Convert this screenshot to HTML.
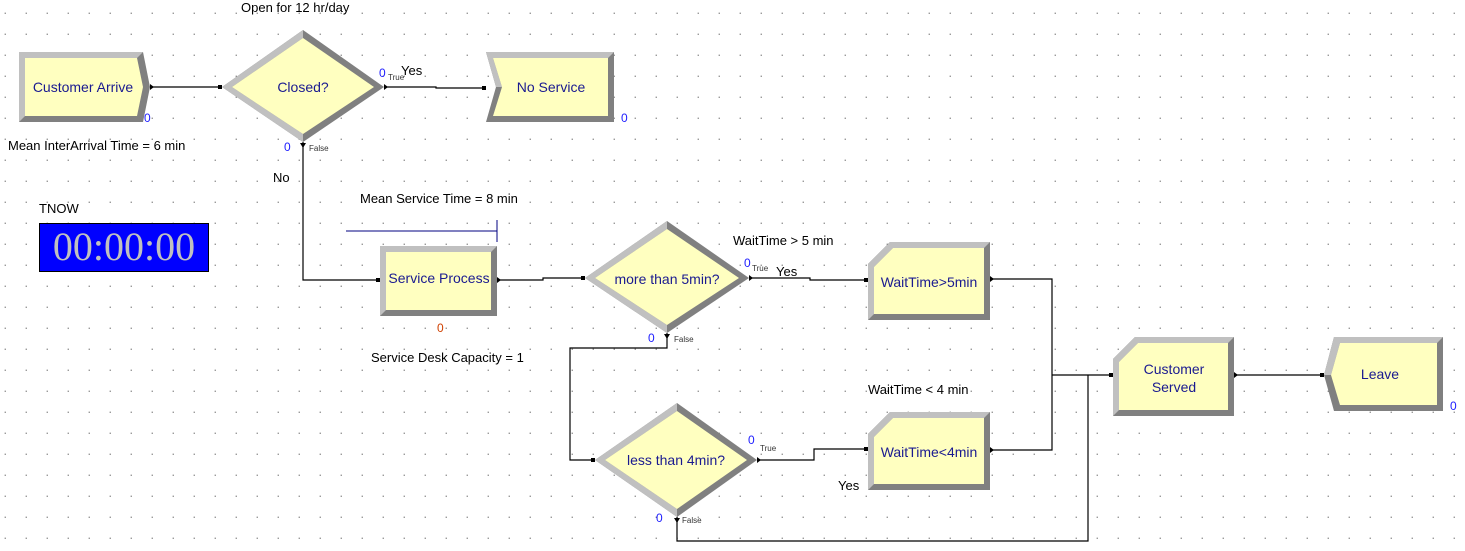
<!DOCTYPE html>
<html><head><meta charset="utf-8"><style>
html,body{margin:0;padding:0;background:#fff;}
svg{display:block;font-family:"Liberation Sans",Arial,sans-serif;}
.lbl{font-size:13px;fill:#000;}
.nm{font-size:14px;fill:#1a1a90;}
.z{font-size:12px;fill:#2020ff;}
.tf{font-size:8px;fill:#333;}
.ln{stroke:#000;stroke-width:1.2;fill:none;}
</style></head><body>
<svg width="1465" height="551" viewBox="0 0 1465 551">
<defs>
<pattern id="dots" x="4.7" y="12.7" width="21" height="21" patternUnits="userSpaceOnUse">
<rect x="0" y="0" width="1" height="1" fill="#333"/>
</pattern>
</defs>
<rect width="1465" height="551" fill="#fff"/>
<rect width="1465" height="551" fill="url(#dots)"/>

<!-- connectors -->
<polyline class="ln" points="150,87 222,87"/>
<polyline class="ln" points="384,87 436,87 436,88 486,88"/>
<polyline class="ln" points="303,142 303,280 380,280"/>
<polyline class="ln" points="497,280 543,280 543,278 585,278"/>
<polyline class="ln" points="749,278 810,278 810,280 868,280"/>
<polyline class="ln" points="990,279 1052,279 1052,450 990,450"/>
<polyline class="ln" points="1052,375 1113,375"/>
<polyline class="ln" points="667,333 667,348 570,348 570,460 595,460"/>
<polyline class="ln" points="757,460 814,460 814,449 868,449"/>
<polyline class="ln" points="677,517 677,541 1088,541 1088,375"/>
<polyline class="ln" points="1234,375 1324,375"/>
<g fill="#000">
<rect x="218" y="85" width="4" height="4"/><rect x="482" y="86" width="4" height="4"/>
<rect x="376" y="278" width="4" height="4"/><rect x="581" y="276" width="4" height="4"/>
<rect x="864" y="278" width="4" height="4"/><rect x="1109" y="373" width="4" height="4"/>
<rect x="591" y="458" width="4" height="4"/><rect x="864" y="447" width="4" height="4"/>
<rect x="1320" y="373" width="4" height="4"/>
<path d="M150,84 L154,87 L150,90Z M384,84 L388,87 L384,90Z M300,143 L306,143 L303,148Z M497,277 L501,280 L497,283Z M749,275 L753,278 L749,281Z M664,334 L670,334 L667,339Z M757,457 L761,460 L757,463Z M674,518 L680,518 L677,523Z M990,276 L994,279 L990,282Z M990,447 L994,450 L990,453Z M1234,372 L1238,375 L1234,378Z"/>
</g>

<!-- Customer Arrive -->
<polygon points="19,52 143,52 150,87 143,122 19,122" fill="#808080"/>
<polygon points="19,52 143,52 137,58 25,58 25,116 19,122" fill="#c0c0c0"/>
<polygon points="25,58 137,58 143,87 137,116 25,116" fill="#ffffc0"/>
<text class="nm" x="83" y="92" text-anchor="middle">Customer Arrive</text>
<text class="z" x="144" y="122">0</text>
<text class="lbl" x="8" y="150">Mean InterArrival Time = 6 min</text>

<!-- Closed? -->
<polygon points="303,30 384,87 303,142 222,87" fill="#808080"/>
<polygon points="303,30 222,87 303,142 303,134 232,87 303,38" fill="#c0c0c0"/>
<polygon points="303,38 374,87 303,134 232,87" fill="#ffffc0"/>
<text class="nm" x="303" y="92" text-anchor="middle">Closed?</text>
<text class="lbl" x="241" y="12">Open for 12 hr/day</text>
<text class="z" x="379" y="77">0</text><text class="tf" x="388" y="80">True</text>
<text class="lbl" x="401" y="75">Yes</text>
<text class="z" x="284" y="151">0</text><text class="tf" x="309" y="151">False</text>
<text class="lbl" x="273" y="182">No</text>

<!-- No Service -->
<polygon points="486,52 614,52 614,122 486,122 496,87" fill="#808080"/>
<polygon points="486,52 614,52 608,58 493,58 502,87 496,87" fill="#c0c0c0"/>
<polygon points="493,58 608,58 608,116 493,116 502,87" fill="#ffffc0"/>
<text class="nm" x="551" y="92" text-anchor="middle">No Service</text>
<text class="z" x="621" y="122">0</text>

<!-- TNOW -->
<text class="lbl" x="39" y="213">TNOW</text>
<rect x="39.5" y="223.5" width="169" height="48" fill="#0000ff" stroke="#000"/>
<text x="124" y="260" text-anchor="middle" style="font-family:'Liberation Serif',serif;font-size:40px;fill:#c0c0c0">00:00:00</text>

<!-- Service Process -->
<text class="lbl" x="360" y="203">Mean Service Time = 8 min</text>
<line x1="346" y1="231" x2="497" y2="231" stroke="#000080" stroke-width="1"/>
<line x1="497" y1="220" x2="497" y2="242" stroke="#000080" stroke-width="1"/>
<rect x="380" y="246" width="117" height="70" fill="#808080"/>
<polygon points="380,246 497,246 491,252 386,252 386,310 380,316" fill="#c0c0c0"/>
<rect x="386" y="252" width="105" height="58" fill="#ffffc0"/>
<text class="nm" x="439" y="283" text-anchor="middle">Service Process</text>
<text x="437" y="332" style="font-size:12px;fill:#d04000">0</text>
<text class="lbl" x="371" y="362">Service Desk Capacity = 1</text>

<!-- more than 5min? -->
<polygon points="667,221 749,278 667,333 585,278" fill="#808080"/>
<polygon points="667,221 585,278 667,333 667,325 595,278 667,229" fill="#c0c0c0"/>
<polygon points="667,229 739,278 667,325 595,278" fill="#ffffc0"/>
<text class="nm" x="667" y="284" text-anchor="middle">more than 5min?</text>
<text class="lbl" x="733" y="245">WaitTime &gt; 5 min</text>
<text class="z" x="744" y="267">0</text><text class="tf" x="752" y="271">True</text>
<text class="lbl" x="776" y="276">Yes</text>
<text class="z" x="648" y="342">0</text><text class="tf" x="674" y="342">False</text>

<!-- WaitTime>5min -->
<polygon points="868,264 890,242 990,242 990,320 868,320" fill="#808080"/>
<polygon points="868,264 890,242 990,242 984,248 893,248 874,267 874,314 868,320" fill="#c0c0c0"/>
<polygon points="874,267 893,248 984,248 984,314 874,314" fill="#ffffc0"/>
<text class="nm" x="929" y="287" text-anchor="middle">WaitTime&gt;5min</text>

<!-- less than 4min? -->
<polygon points="677,403 757,460 677,517 595,460" fill="#808080"/>
<polygon points="677,403 595,460 677,517 677,509 605,460 677,411" fill="#c0c0c0"/>
<polygon points="677,411 747,460 677,509 605,460" fill="#ffffc0"/>
<text class="nm" x="676" y="465" text-anchor="middle">less than 4min?</text>
<text class="z" x="748" y="444">0</text><text class="tf" x="760" y="451">True</text>
<text class="z" x="656" y="522">0</text><text class="tf" x="682" y="523">False</text>

<!-- WaitTime<4min -->
<text class="lbl" x="868" y="394">WaitTime &lt; 4 min</text>
<polygon points="868,434 890,412 990,412 990,490 868,490" fill="#808080"/>
<polygon points="868,434 890,412 990,412 984,418 893,418 874,437 874,484 868,490" fill="#c0c0c0"/>
<polygon points="874,437 893,418 984,418 984,484 874,484" fill="#ffffc0"/>
<text class="nm" x="929" y="457" text-anchor="middle">WaitTime&lt;4min</text>
<text class="lbl" x="838" y="490">Yes</text>

<!-- Customer Served -->
<polygon points="1113,359 1135,337 1234,337 1234,416 1113,416" fill="#808080"/>
<polygon points="1113,359 1135,337 1234,337 1228,343 1138,343 1119,362 1119,410 1113,416" fill="#c0c0c0"/>
<polygon points="1119,362 1138,343 1228,343 1228,410 1119,410" fill="#ffffc0"/>
<text class="nm" x="1174" y="374" text-anchor="middle">Customer</text>
<text class="nm" x="1174" y="392" text-anchor="middle">Served</text>

<!-- Leave -->
<polygon points="1324,375 1334,337 1443,337 1443,411 1334,411" fill="#808080"/>
<polygon points="1324,375 1334,337 1443,337 1437,343 1340,343 1331,375" fill="#c0c0c0"/>
<polygon points="1331,375 1340,343 1437,343 1437,405 1340,405" fill="#ffffc0"/>
<text class="nm" x="1380" y="379" text-anchor="middle">Leave</text>
<text class="z" x="1450" y="410">0</text>
</svg>
</body></html>
